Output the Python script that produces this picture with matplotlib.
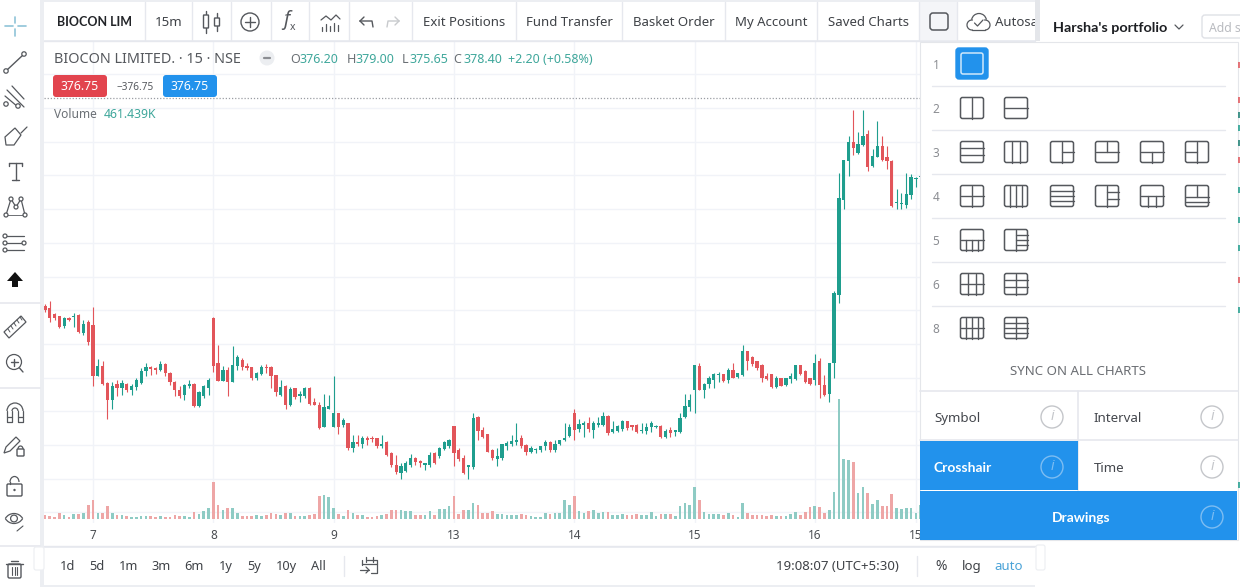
import matplotlib
# Use Agg backend for headless rendering
matplotlib.use('Agg')
import matplotlib.pyplot as plt
from matplotlib.patches import Rectangle, FancyBboxPatch, Circle, Polygon, Arc
import numpy as np

plt.rcParams['font.family'] = ['Noto Sans', 'DejaVu Sans']

WIDTH, HEIGHT = 1240, 587
GREEN = '#1f9e8e'
RED = '#e2555a'
BLUE = '#2292ec'
GRID = '#f1f3f8'
LINE = '#e6e8ee'
INK = '#3f4247'
ICON = '#55585d'

# 15 minute bars, one block per session: end of the 6th, then the 7th, 8th, 9th, 13th, 14th, 15th, 16th
opens = [
    361.3, 361.15, 360.7, 360.55, 359.8, 360.45, 360.5, 360.65, 359.3, 360.15,
    359.9, 356.1, 356.85, 355.6, 354.35, 355.5, 355.25, 355.55, 355.1, 355.3, 355.6, 356.5, 356.75, 356.7, 356.6, 357.0, 356.35, 355.7, 355.1, 354.7, 355.35, 355.55, 353.9, 354.6, 355.2,
    360.45, 357.1, 355.75, 356.55, 355.7, 356.85, 357.3, 356.85, 356.75, 355.95, 356.3, 356.75, 356.8, 356.2, 354.7, 355.4, 354.0, 355.2, 354.6, 354.65, 355.25, 354.2, 353.95, 352.35, 353.7,
    352.35, 353.4, 352.5, 352.6, 350.75, 351.25, 351.05, 351.55, 351.55, 351.5, 350.95, 351.25, 350.4, 349.5, 348.95, 349.1, 349.5, 350.0, 349.8, 349.55, 349.5, 350.4, 350.15, 350.7, 350.9,
    352.4, 350.6, 350.0, 349.4, 349.4, 353.05, 352.1, 351.8, 350.6, 349.95, 350.0, 350.9, 351.05, 351.25, 351.5, 351.0, 350.5, 350.6, 350.6, 350.95, 351.25, 350.65, 351.05, 351.35, 351.65,
    353.4, 352.15, 352.5, 352.6, 352.1, 352.5, 352.5, 353.15, 351.95, 352.05, 352.15, 352.75, 352.45, 352.5, 352.05, 352.05, 352.3, 352.3, 352.4, 351.6, 352.1, 352.0, 352.0, 353.05, 353.85,
    355.1, 356.85, 355.05, 355.5, 355.8, 356.2, 356.25, 355.8, 356.6, 356.05, 356.2, 357.95, 357.55, 357.2, 356.95, 356.1, 356.25, 355.3, 355.95, 355.45, 355.9, 355.9, 356.95, 356.5, 355.95,
    355.85, 357.25, 355.45, 354.8, 357.05, 362.15, 369.15, 372.1, 373.45, 372.65, 373.25, 374.1, 371.7, 372.4, 373.15, 372.4, 372.1, 368.95, 368.85, 368.8, 369.55, 370.7, 370.85,
]
highs = [
    361.45, 361.65, 360.8, 360.6, 360.5, 360.5, 360.8, 360.7, 360.3, 360.25,
    361.25, 357.4, 357.2, 355.7, 355.7, 355.85, 355.8, 355.6, 355.55, 356.0, 356.7, 357.1, 356.85, 356.8, 357.25, 357.05, 356.45, 355.75, 355.35, 355.55, 355.8, 355.6, 355.0, 355.45, 355.95,
    360.5, 358.4, 356.85, 356.8, 358.35, 357.7, 357.45, 357.1, 356.8, 356.45, 356.95, 357.0, 356.85, 356.2, 355.8, 355.45, 355.3, 355.25, 355.0, 355.3, 355.3, 354.45, 354.2, 354.8, 354.7,
    356.1, 353.4, 353.0, 352.65, 351.75, 351.75, 351.65, 351.65, 351.65, 351.55, 351.75, 351.3, 350.5, 350.25, 349.65, 349.85, 350.3, 350.1, 349.9, 349.65, 350.5, 350.45, 350.85, 351.3, 351.45,
    352.4, 350.75, 350.25, 349.45, 353.4, 353.15, 352.3, 351.85, 350.7, 350.75, 351.1, 351.3, 351.75, 352.6, 351.75, 351.05, 350.9, 350.8, 350.95, 351.4, 351.3, 351.4, 351.4, 352.6, 352.55,
    353.7, 352.95, 352.75, 353.1, 352.75, 353.05, 353.45, 353.2, 352.75, 352.5, 352.85, 352.8, 352.5, 352.55, 352.65, 352.65, 352.75, 352.5, 352.45, 352.15, 352.3, 352.1, 353.4, 354.8, 354.8,
    356.9, 357.1, 355.6, 356.1, 356.35, 356.45, 356.3, 356.7, 357.1, 356.35, 358.4, 358.0, 357.6, 357.25, 357.0, 356.35, 356.3, 356.1, 356.0, 356.0, 356.35, 356.95, 356.95, 356.55, 356.0,
    357.75, 357.45, 356.2, 357.1, 362.4, 371.2, 372.15, 373.9, 375.85, 374.25, 375.85, 374.4, 372.95, 375.05, 373.9, 373.15, 372.15, 370.0, 369.7, 371.15, 371.1, 370.85, 371.4,
]
lows = [
    360.9, 360.15, 360.3, 359.65, 359.7, 360.2, 359.75, 359.3, 359.15, 358.4,
    355.4, 356.1, 355.45, 352.9, 353.65, 354.6, 354.7, 354.9, 354.7, 355.05, 355.5, 356.1, 356.2, 356.3, 356.5, 356.1, 355.45, 354.6, 354.45, 354.35, 355.2, 353.8, 353.8, 354.45, 354.7,
    356.45, 355.75, 355.75, 354.6, 355.7, 356.55, 356.55, 356.55, 355.8, 355.8, 356.2, 356.35, 355.2, 354.65, 354.65, 353.7, 353.9, 354.4, 354.2, 354.45, 354.0, 354.0, 352.15, 352.3, 353.65,
    352.35, 351.85, 352.3, 350.6, 350.45, 350.9, 350.75, 351.0, 351.25, 350.8, 350.8, 350.15, 349.4, 348.85, 348.45, 349.0, 349.4, 349.5, 349.4, 349.15, 349.4, 349.6, 350.0, 350.6, 350.8,
    349.45, 349.85, 348.85, 348.45, 349.2, 351.4, 351.5, 350.45, 349.9, 349.45, 349.9, 350.65, 350.9, 351.0, 350.8, 350.25, 350.4, 350.4, 350.45, 350.6, 350.5, 350.5, 351.0, 351.3, 351.6,
    351.4, 352.0, 351.6, 352.0, 351.5, 352.35, 352.4, 351.75, 351.9, 351.95, 352.05, 352.1, 352.1, 351.9, 351.9, 351.85, 352.0, 352.25, 351.55, 351.55, 351.6, 351.65, 351.9, 353.0, 353.55,
    353.4, 355.05, 354.45, 355.2, 355.2, 355.7, 355.7, 355.6, 355.95, 356.0, 356.1, 356.6, 356.85, 356.6, 355.7, 355.8, 355.2, 355.2, 355.35, 355.4, 355.6, 355.85, 356.2, 355.6, 355.45,
    355.45, 354.45, 354.65, 354.2, 356.0, 361.55, 368.5, 370.95, 372.5, 372.6, 373.2, 371.35, 371.6, 372.35, 372.1, 371.5, 368.65, 368.5, 368.5, 368.55, 369.25, 370.15, 370.8,
]
closes = [
    361.0, 360.4, 360.4, 359.75, 360.45, 360.3, 360.6, 359.35, 360.0, 358.65,
    356.1, 356.85, 355.55, 354.35, 355.4, 355.25, 355.6, 355.05, 355.4, 355.8, 356.5, 356.8, 356.65, 356.6, 357.0, 356.35, 355.7, 355.05, 354.6, 355.45, 355.55, 353.9, 354.95, 355.35, 355.8,
    356.85, 355.75, 356.55, 355.7, 356.95, 357.5, 356.75, 356.7, 355.95, 356.35, 356.8, 356.7, 356.1, 354.9, 355.3, 354.0, 355.15, 354.55, 354.8, 355.2, 354.05, 354.0, 352.25, 353.85, 353.9,
    353.4, 352.3, 352.85, 350.75, 351.25, 351.05, 351.5, 351.4, 351.45, 350.95, 351.1, 350.25, 349.5, 349.0, 349.45, 349.7, 350.0, 349.75, 349.65, 349.6, 350.25, 349.65, 350.75, 351.25, 351.4,
    350.4, 349.95, 348.9, 349.45, 353.0, 352.05, 351.6, 350.5, 350.0, 350.2, 351.05, 351.15, 351.3, 351.4, 350.95, 350.45, 350.75, 350.7, 350.9, 351.25, 350.6, 351.05, 351.35, 351.55, 352.35,
    352.1, 352.55, 352.6, 352.15, 352.6, 352.6, 353.15, 351.9, 352.2, 352.4, 352.75, 352.25, 352.3, 352.0, 352.1, 352.35, 352.6, 352.4, 351.6, 352.05, 351.9, 352.05, 353.0, 353.9, 354.35,
    356.9, 355.05, 355.5, 356.0, 356.25, 356.3, 355.75, 356.6, 356.0, 356.35, 358.0, 357.25, 357.0, 356.7, 356.0, 355.9, 355.3, 355.95, 355.4, 355.95, 356.1, 356.95, 356.25, 355.7, 355.55,
    357.1, 355.45, 354.7, 357.1, 362.25, 369.3, 372.15, 373.45, 373.0, 373.35, 373.9, 371.6, 372.45, 373.15, 372.15, 372.1, 368.7, 369.05, 368.95, 369.6, 370.85, 370.8, 370.95,
]
# volume in thousands of shares
volumes = [
    65, 55, 40, 120, 65, 35, 100, 100, 120, 280,
    365, 120, 120, 255, 120, 80, 65, 55, 40, 35, 55, 55, 55, 40, 55, 40, 40, 65, 55, 55, 35, 135, 100, 145, 215,
    735, 265, 165, 215, 220, 120, 55, 55, 55, 65, 55, 80, 120, 100, 80, 120, 120, 55, 55, 55, 80, 100, 455, 480, 435,
    215, 100, 55, 180, 120, 80, 65, 35, 35, 55, 65, 100, 165, 180, 180, 145, 145, 80, 80, 80, 145, 80, 200, 200, 245,
    455, 100, 180, 180, 320, 265, 120, 120, 145, 100, 100, 65, 80, 80, 100, 80, 55, 35, 35, 120, 100, 120, 120, 365, 265,
    455, 145, 120, 145, 165, 120, 135, 135, 65, 65, 100, 65, 65, 100, 65, 65, 135, 55, 100, 100, 100, 55, 255, 320, 265,
    635, 365, 135, 100, 100, 100, 65, 120, 80, 35, 320, 120, 80, 65, 80, 55, 65, 55, 55, 55, 95, 135, 65, 135, 240,
    245, 235, 120, 180, 535, 2390, 1190, 1170, 1135, 520, 635, 520, 300, 380, 245, 245, 500, 220, 185, 220, 220, 120, 265,
]
day_bars = [10, 35, 60, 85, 110, 135, 160, 181]
day_labels = ['7', '8', '9', '13', '14', '15', '16', '15']
price_levels = [381.0, 378.5, 376.0, 373.5, 371.0, 368.5, 366.0, 363.5, 361.0, 358.5, 356.0, 353.5, 351.0, 348.5, 346.0]
last_price = 376.75

range_buttons = ['1d', '5d', '1m', '3m', '6m', '1y', '5y', '10y', 'All']
range_button_x = [68, 97, 129, 161, 194, 226, 254, 286, 318]


def px_axes(fig, zorder):
    ax = fig.add_axes([0, 0, 1, 1], zorder=zorder)
    ax.set_xlim(0, WIDTH)
    ax.set_ylim(HEIGHT, 0)
    ax.axis('off')
    ax.patch.set_alpha(0)
    return ax


def chart_axes(fig, top, bottom, left=44, right=1037):
    rect = [left / WIDTH, 1 - bottom / HEIGHT, (right - left) / WIDTH, (bottom - top) / HEIGHT]
    ax = fig.add_axes(rect, zorder=2)
    ax.patch.set_alpha(0)
    for spine in ax.spines.values():
        spine.set_visible(False)
    # 4.812 px per bar, first bar sits at x=44.9
    ax.set_xlim((left - 44.9) / 4.812, (right - 44.9) / 4.812)
    return ax


def txt(ax, x, y, s, size=9.5, color=INK, ha='left', **kw):
    # Noto's centre sits a bit high against the screenshot
    return ax.text(x, y + 1.5, s, fontsize=size, color=color, ha=ha, va='center', **kw)


def bold(ax, x, y, s, size=9.5, color=INK, ha='left', **kw):
    return txt(ax, x, y, s, size, color, ha, family=['Lato', 'DejaVu Sans'], fontweight='bold', **kw)


def line(ax, xs, ys, color=ICON, lw=1.0, **kw):
    ax.plot(xs, ys, color=color, lw=lw, solid_capstyle='round', **kw)


def ring(ax, x, y, r=2.2, color=ICON):
    ax.add_patch(Circle((x, y), r, fc='white', ec=color, lw=0.9, zorder=4))


def rbox(ax, x0, y0, x1, y1, fc='none', ec=ICON, lw=1.0, r=2.5, zorder=3):
    ax.add_patch(FancyBboxPatch((x0 + r, y0 + r), x1 - x0 - 2 * r, y1 - y0 - 2 * r,
                                boxstyle=f'round,pad={r},rounding_size={r}', fc=fc, ec=ec, lw=lw, zorder=zorder))


def draw_side_icons(ax):
    # crosshair
    line(ax, [5, 13], [26, 26], '#8fc3d8', 1.2)
    line(ax, [18, 26], [26, 26], '#8fc3d8', 1.2)
    line(ax, [15, 15], [17, 23], '#8fc3d8', 1.2)
    line(ax, [15, 15], [29, 36], '#8fc3d8', 1.2)
    # trend line
    line(ax, [7, 23], [70, 55])
    ring(ax, 6, 71)
    ring(ax, 24, 54)
    # fork
    line(ax, [7, 24], [90, 107], lw=0.9)
    line(ax, [12, 24], [86, 99], lw=0.9)
    line(ax, [5, 18], [96, 107], lw=0.9)
    ring(ax, 6, 104)
    ring(ax, 18, 106)
    # brush
    ax.add_patch(Polygon([[6, 145], [5, 137], [15, 128], [21, 135], [14, 145]], fc='none', ec=ICON, lw=0.9))
    line(ax, [21, 27], [133, 127], lw=0.9)
    # text tool
    line(ax, [9, 22], [163, 163])
    line(ax, [15.5, 15.5], [163, 180])
    line(ax, [12, 19], [180, 180])
    line(ax, [9, 9], [163, 166])
    line(ax, [22, 22], [163, 166])
    # xabcd pattern
    xs, ys = [6, 11, 16, 21, 25], [215, 199, 207, 199, 215]
    line(ax, xs, ys, lw=0.9)
    line(ax, [6, 25], [215, 215], lw=0.6)
    for px_, py_ in zip(xs, ys):
        ring(ax, px_, py_, 2.0)
    # fib levels
    for yy in [236, 243, 250]:
        line(ax, [6, 24], [yy, yy], lw=0.9)
        ring(ax, 5, yy, 2.0)
    ring(ax, 24, 243, 2.0)
    # arrow marks
    ax.add_patch(Polygon([[15, 272], [23, 281], [18, 281], [18, 287], [12, 287], [12, 281], [7, 281]], fc='#111111', ec='none'))
    # ruler
    ax.add_patch(Polygon([[4, 332], [21, 316], [26, 322], [9, 338]], fc='none', ec=ICON, lw=0.9))
    for k in range(5):
        line(ax, [8 + 3 * k, 10 + 3 * k], [329 - 3 * k, 332 - 3 * k], lw=0.7)
    # zoom
    ax.add_patch(Circle((14, 362), 7.5, fc='none', ec=ICON, lw=0.9))
    line(ax, [19.5, 23], [368, 372])
    line(ax, [10.5, 17.5], [362, 362])
    line(ax, [14, 14], [358.5, 365.5])
    # magnet
    ax.add_patch(Arc((15, 411), 16, 16, theta1=180, theta2=360, ec=ICON, lw=0.9))
    ax.add_patch(Arc((15, 411), 6, 6, theta1=180, theta2=360, ec=ICON, lw=0.9))
    line(ax, [7, 7, 12, 12], [411, 422, 422, 411], lw=0.9)
    line(ax, [23, 23, 18, 18], [411, 422, 422, 411], lw=0.9)
    line(ax, [7, 12], [417, 417], lw=0.9)
    line(ax, [18, 23], [417, 417], lw=0.9)
    # pencil with lock
    ax.add_patch(Polygon([[4, 453], [6, 447], [16, 437], [20, 441], [10, 451]], fc='none', ec=ICON, lw=0.9))
    rbox(ax, 17, 449, 24, 456, r=0.8)
    ax.add_patch(Arc((20.5, 449), 5, 6, theta1=180, theta2=360, ec=ICON, lw=0.9))
    # open lock
    rbox(ax, 7, 484, 22, 496, r=1.2)
    ax.add_patch(Arc((14.5, 482), 9, 11, theta1=180, theta2=360, ec=ICON, lw=0.9))
    line(ax, [10, 10], [482, 484])
    ax.add_patch(Circle((14.5, 490), 1.2, fc=ICON, ec='none'))
    # eye
    ax.add_patch(Arc((14, 523.5), 20, 20, theta1=210, theta2=330, ec=ICON, lw=0.9))
    ax.add_patch(Arc((14, 513.5), 20, 20, theta1=30, theta2=150, ec=ICON, lw=0.9))
    ax.add_patch(Circle((14, 518.5), 3.4, fc='none', ec=ICON, lw=0.9))
    line(ax, [17, 23], [531, 526], lw=0.8)
    # trash
    rbox(ax, 8, 564, 21, 578, r=1.5)
    line(ax, [6, 23], [564, 564])
    line(ax, [11, 18], [561, 561])
    for xx in [12, 14.5, 17]:
        line(ax, [xx, xx], [567, 575], lw=0.8)


def draw_top_icons(ax):
    # candles
    line(ax, [206, 206], [11, 33])
    rbox(ax, 203.5, 15, 208.5, 28, fc='white', r=0.5)
    line(ax, [217, 217], [13, 31])
    rbox(ax, 214.5, 18, 219.5, 26, fc='white', r=0.5)
    # plus
    ax.add_patch(Circle((250, 22), 9, fc='none', ec=ICON, lw=1.0))
    line(ax, [245, 255], [22, 22])
    line(ax, [250, 250], [17, 27])
    # indicators
    txt(ax, 283, 19, 'f', 14, ICON, style='italic')
    txt(ax, 290, 26, 'x', 7.5, ICON)
    line(ax, [321, 326, 331, 336, 340], [20, 16, 20, 15, 19], lw=0.9)
    for xx, h in zip([322, 326, 330, 334, 338], [4, 7, 5, 8, 6]):
        line(ax, [xx, xx], [31 - h, 31], lw=0.9)
    # undo and redo
    line(ax, [360, 372, 373], [21, 21, 27])
    line(ax, [360, 364], [21, 17])
    line(ax, [360, 364], [21, 25])
    line(ax, [399, 388, 387], [21, 21, 27], '#c8cacd')
    line(ax, [399, 395], [21, 17], '#c8cacd')
    line(ax, [399, 395], [21, 25], '#c8cacd')
    # layout box and cloud
    rbox(ax, 930, 13, 948, 30, lw=1.1, r=3)
    ax.add_patch(Arc((979, 21), 15, 15, theta1=190, theta2=350, ec=ICON, lw=0.9))
    ax.add_patch(Arc((972, 25), 10, 10, theta1=80, theta2=280, ec=ICON, lw=0.9))
    ax.add_patch(Arc((985, 25), 10, 10, theta1=-100, theta2=90, ec=ICON, lw=0.9))
    line(ax, [972, 985], [30, 30], lw=0.9)
    line(ax, [974.5, 977.5, 983], [23, 26, 20], lw=0.9)


def draw_layout_icon(ax, cx, cy, vlines=(), hlines=(), w=23, h=21):
    x0, y0 = cx - w / 2, cy - h / 2
    rbox(ax, x0, y0, x0 + w, y0 + h, ec=ICON, lw=1.1, r=2)
    for v in vlines:
        fx, a, b = v
        line(ax, [x0 + fx * w] * 2, [y0 + a * h, y0 + b * h], ICON, 1.0)
    for s in hlines:
        fy, a, b = s
        line(ax, [x0 + a * w, x0 + b * w], [y0 + fy * h] * 2, ICON, 1.0)


def draw_panel(ax):
    ax.add_patch(Rectangle((920, 42), 318, 498, fc='white', ec='#e4e6ea', lw=0.8, zorder=1))
    rbox(ax, 956, 48, 988, 79, fc=BLUE, ec=BLUE, r=3)
    rbox(ax, 961, 53, 983, 74, fc=BLUE, ec='#cfe8fb', lw=1.1, r=2, zorder=4)

    full_v = lambda *f: [(k, 0, 1) for k in f]
    full_h = lambda *f: [(k, 0, 1) for k in f]
    rows = [
        (108, [(full_v(.5), []), ([], full_h(.5))]),
        (152, [([], full_h(.33, .66)), (full_v(.33, .66), []),
               (full_v(.5), [(.5, .5, 1)]), ([(.5, 0, .5)], full_h(.5)),
               ([(.5, .5, 1)], full_h(.5)), (full_v(.5), [(.5, 0, .5)])]),
        (196, [(full_v(.5), full_h(.5)), (full_v(.25, .5, .75), []), ([], full_h(.25, .5, .75)),
               (full_v(.5), [(.33, .5, 1), (.66, .5, 1)]),
               ([(.33, .5, 1), (.66, .5, 1)], full_h(.5)),
               ([(.5, 0, .55)], full_h(.55, .78))]),
        (240, [([(.25, .5, 1), (.5, .5, 1), (.75, .5, 1)], full_h(.5)),
               (full_v(.5), [(.25, .5, 1), (.5, .5, 1), (.75, .5, 1)])]),
        (284, [(full_v(.33, .66), full_h(.5)), (full_v(.5), full_h(.33, .66))]),
        (328, [(full_v(.25, .5, .75), full_h(.5)), (full_v(.5), full_h(.25, .5, .75))]),
    ]
    columns = [972, 1016, 1062, 1107, 1152, 1197]
    for yy, icons in rows:
        for xx, (vl, hl) in zip(columns, icons):
            draw_layout_icon(ax, xx, yy, vl, hl)

    for num, yy in zip(['1', '2', '3', '4', '5', '6', '8'], [64, 108, 152, 196, 240, 284, 328]):
        txt(ax, 936, yy, num, 8.5, '#8b8d92', ha='center')
    for yy in [86, 130, 174, 218, 262, 306]:
        line(ax, [932, 1225], [yy, yy], LINE, 1.0)

    txt(ax, 1078, 370, 'SYNC ON ALL CHARTS', 9.6, '#6b6e73', ha='center')
    line(ax, [920, 1238], [391, 391], LINE, 1.2)
    line(ax, [920, 1238], [440, 440], LINE, 1.2)
    line(ax, [1078, 1078], [391, 490], LINE, 1.2)

    ax.add_patch(Rectangle((920, 441), 158, 49, fc=BLUE, ec='none', zorder=2))
    ax.add_patch(Rectangle((920, 491), 317, 49, fc=BLUE, ec='none', zorder=2))
    txt(ax, 934, 417, 'Symbol', 9.6, '#44474d', zorder=5)
    txt(ax, 1094, 417, 'Interval', 9.6, '#44474d', zorder=5)
    bold(ax, 934, 467, 'Crosshair', 10, 'white', zorder=5)
    txt(ax, 1094, 467, 'Time', 9.6, '#44474d', zorder=5)
    bold(ax, 1081, 517, 'Drawings', 10, 'white', ha='center', zorder=5)
    for xx, yy, col in [(1052, 417, '#c4c6ca'), (1212, 417, '#c4c6ca'), (1052, 467, '#7dbdf2'),
                        (1212, 467, '#c4c6ca'), (1212, 517, '#7dbdf2')]:
        ax.add_patch(Circle((xx, yy), 11, fc='none', ec=col, lw=1.0, zorder=5))
        txt(ax, xx, yy - 1.5, 'i', 10, col, ha='center', style='italic', fontweight='bold', zorder=5)


fig = plt.figure(figsize=(WIDTH / 100, HEIGHT / 100), dpi=100, facecolor='#eceef2')

# --- window chrome behind the chart ---
back = px_axes(fig, 0)
back.add_patch(Rectangle((0, 0), 40, HEIGHT, fc='white', ec='none'))
back.add_patch(Rectangle((44, 2), 991, 38, fc='white', ec='none'))
back.add_patch(Rectangle((44, 42), 991, 504, fc='white', ec='none'))
back.add_patch(Rectangle((44, 548), 991, 37, fc='white', ec='none'))
back.add_patch(Rectangle((1040, 0), 200, HEIGHT, fc='white', ec='none'))
back.add_patch(Rectangle((1035, 40), 205, HEIGHT, fc='white', ec='none'))

# --- price pane ---
x = np.arange(len(opens))
o, h, l, c = map(np.array, (opens, highs, lows, closes))
up = c >= o
colors = np.where(up, GREEN, RED)

ax = chart_axes(fig, 42, 523)
ax.set_yticks(price_levels)
ax.set_xticks(day_bars)
ax.set_xticklabels(day_labels, fontsize=8.5, color='#4a4d52')
ax.tick_params(axis='x', length=0, pad=4)
ax.tick_params(axis='y', length=0, labelleft=False)
ax.grid(True, color=GRID, lw=1.0)
ax.set_axisbelow(True)
ax.set_ylim(376 - (523 - 108) * 2.5 / 33.7, 376 + (108 - 42) * 2.5 / 33.7)

ax.vlines(x, l, h, colors=colors, lw=0.8, zorder=3)
body = np.maximum(np.abs(c - o), 0.08)
ax.bar(x, body, bottom=np.minimum(o, c), width=0.68, color=colors, lw=0, zorder=4)
ax.axhline(last_price, color='#9a9da3', lw=0.9, ls=(0, (1, 1.5)), zorder=2)

# --- volume pane, same bars ---
vol_ax = chart_axes(fig, 42, 518.5)
vol_colors = np.where(up, '#8ecbc4', '#eea6a6')
vol_ax.bar(x, volumes, width=0.55, color=vol_colors, lw=0)
vol_ax.set_ylim(0, (518.5 - 42) * 20)
vol_ax.axis('off')

# --- everything drawn over the chart ---
ui = px_axes(fig, 5)
line(ui, [44, 1035], [41, 41], LINE, 1.0)
line(ui, [44, 1035], [546, 546], LINE, 1.0)
for sx in [145, 192, 231, 271, 309, 349, 412, 516, 622, 725, 817, 919, 957]:
    line(ui, [sx, sx], [2, 40], LINE, 1.0)
ui.add_patch(Rectangle((920, 2), 37, 38, fc='#f4f5f8', ec='none'))

bold(ui, 57, 21, 'BIOCON LIM', 9, '#222428')
txt(ui, 169, 21, '15m', 9.5, ha='center')
for label, xc in [('Exit Positions', 464), ('Fund Transfer', 569), ('Basket Order', 674),
                  ('My Account', 771), ('Saved Charts', 868)]:
    txt(ui, xc, 21, label, 9.5, ha='center')
txt(ui, 995, 21, 'Autosa', 9.5, clip_on=True)
ui.add_patch(Rectangle((1035, 0), 5, 41, fc='#e4e6ea', ec='none', zorder=6))
bold(ui, 1053, 27, "Harsha's portfolio", 10.4, '#1d1f23')
line(ui, [1175, 1179, 1183], [25, 29, 25], ICON, 0.9)
rbox(ui, 1202, 15, 1245, 38, ec='#dfe1e6', r=3)
txt(ui, 1209, 27, 'Add s', 8.8, '#b9bbc0')

draw_side_icons(ui)
draw_top_icons(ui)
for sy in [303, 388, 546]:
    line(ui, [0, 40], [sy, sy], LINE, 1.2)

# legend lines
txt(ui, 54, 58, 'BIOCON LIMITED. · 15 · NSE', 10.4, ICON)
ui.add_patch(Circle((267, 58), 7.5, fc='#eceef1', ec='none'))
line(ui, [264, 270], [58, 58], '#8b8d92', 1.6)
ohlc_parts = [('O', 290), ('376.20', 300), ('H', 347), ('379.00', 356), ('L', 402), ('375.65', 409),
              ('C', 453), ('378.40', 463), ('+2.20 (+0.58%)', 508)]
for part, px_ in ohlc_parts:
    is_key = part in ('O', 'H', 'L', 'C')
    txt(ui, px_, 58, part, 9.0, '#6b7075' if is_key else '#3fa79b')
rbox(ui, 53, 75, 107, 97, fc='#e2444e', ec='none', r=3)
txt(ui, 80, 85.5, '376.75', 8.8, 'white', ha='center', zorder=5)
txt(ui, 135, 85.5, '−376.75', 7.2, ICON, ha='center')
rbox(ui, 163, 75, 217, 97, fc=BLUE, ec='none', r=3)
txt(ui, 190, 85.5, '376.75', 8.8, 'white', ha='center', zorder=5)
txt(ui, 54, 113, 'Volume', 8.6, '#6b7075')
txt(ui, 104, 113, '461.439K', 8.8, '#3fa79b')

# bottom toolbar
for label, xc in zip(range_buttons, range_button_x):
    txt(ui, xc, 565, label, 9.2, ha='center')
line(ui, [344, 344], [556, 576], LINE, 1.0)
line(ui, [367, 377, 377, 371], [560, 560, 573, 573], lw=0.9)
line(ui, [362, 362], [560, 565], lw=0.9)
line(ui, [362, 377], [564, 564], lw=0.9)
line(ui, [366, 366], [557, 562], lw=0.9)
line(ui, [373, 373], [557, 562], lw=0.9)
line(ui, [360, 369], [570, 570], lw=0.9)
line(ui, [366, 369, 366], [567, 570, 573], lw=0.9)
txt(ui, 837, 565, '19:08:07 (UTC+5:30)', 9.5, ha='center')
line(ui, [917, 917], [556, 576], LINE, 1.0)
txt(ui, 941, 565, '%', 10, ha='center')
txt(ui, 972, 565, 'log', 9.5, ha='center')
txt(ui, 1009, 565, 'auto', 9.5, '#4aa3d8', ha='center')
rbox(ui, 34, 547, 44, 570, fc='white', ec='#eceef2', lw=0.8, r=2)
rbox(ui, 1036, 545, 1045, 570, fc='white', ec='#eceef2', lw=0.8, r=2)

draw_panel(ui)

# slivers of the watchlist numbers peeking out behind the panel
for sy, col in [(65, RED), (100, RED), (115, '#1a7f72'), (128, GREEN), (143, '#1a7f72'), (160, RED),
                (190, GREEN), (220, GREEN), (248, GREEN), (280, RED), (310, GREEN), (485, GREEN)]:
    ui.add_patch(Rectangle((1238, sy - 3), 2, 6, fc=col, ec='none', alpha=0.8))

fig.savefig('out.png', dpi=100)
plt.close(fig)
